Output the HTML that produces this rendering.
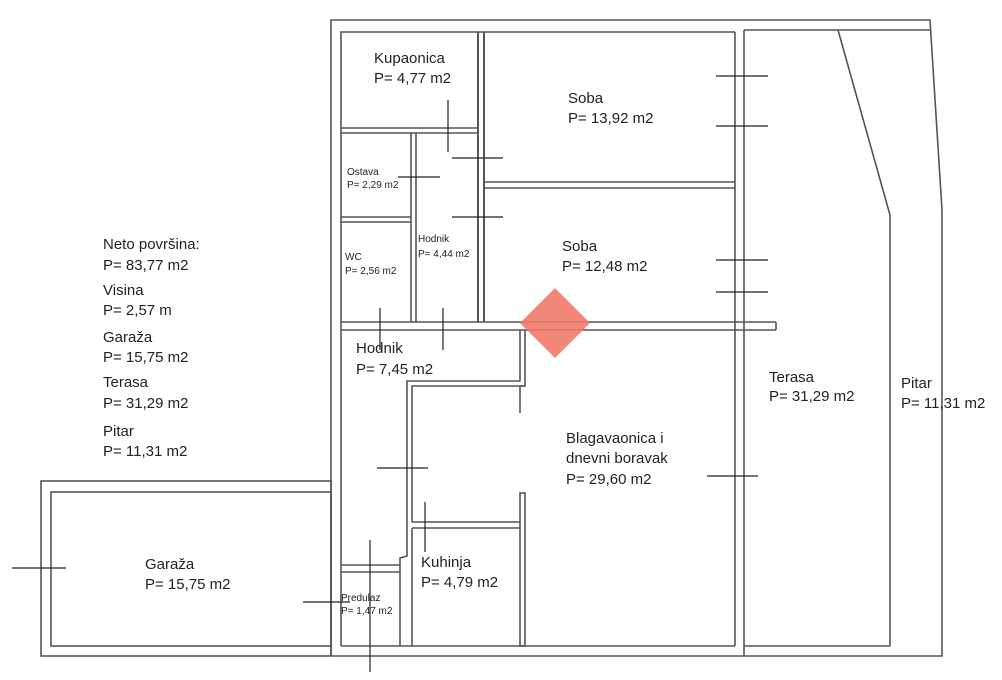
<!DOCTYPE html>
<html><head><style>
body{margin:0;background:#fff;width:1002px;height:680px;overflow:hidden}
svg{position:absolute;left:0;top:0}
text{font-family:"Liberation Sans",sans-serif;fill:#222}
</style></head><body>
<svg width="1002" height="680" viewBox="0 0 1002 680">
<g fill="none" stroke="#555" stroke-width="1.6">
<polyline points="331,656 331,20 930,20 942,210 942,656 331,656"/>
<polyline points="341,646 341,32 735,32"/>
<line x1="744" y1="30" x2="744" y2="656"/>
<line x1="735" y1="32" x2="735" y2="646"/>
<line x1="744" y1="30" x2="930" y2="30"/>
<polyline points="838,30 890,215 890,646"/>
<line x1="341" y1="646" x2="735" y2="646"/>
<line x1="744" y1="646" x2="890" y2="646"/>
<rect x="41" y="481" width="290" height="175"/>
<rect x="51" y="492" width="280" height="154"/>
<line x1="341" y1="128" x2="478" y2="128"/><line x1="341" y1="133" x2="478" y2="133"/>
<line x1="478" y1="32" x2="478" y2="322" stroke-width="2"/><line x1="484" y1="32" x2="484" y2="322" stroke-width="2"/>
<line x1="484" y1="182" x2="735" y2="182"/><line x1="484" y1="188" x2="735" y2="188"/>
<line x1="411" y1="133" x2="411" y2="322"/><line x1="416" y1="133" x2="416" y2="322"/>
<line x1="341" y1="217" x2="411" y2="217"/><line x1="341" y1="222" x2="411" y2="222"/>
<line x1="341" y1="322" x2="776" y2="322"/><line x1="341" y1="330" x2="776" y2="330"/>
<line x1="776" y1="322" x2="776" y2="330"/>
<polyline points="520,330 520,381 407,381 407,556 400,558 400,646"/>
<polyline points="525,330 525,386 412,386 412,522"/>
<line x1="520" y1="386" x2="525" y2="386"/>
<polyline points="520,413 520,386"/>
<rect x="520" y="493" width="5" height="153"/>
<line x1="412" y1="522" x2="520" y2="522"/><line x1="412" y1="528" x2="520" y2="528"/>
<line x1="412" y1="528" x2="412" y2="646"/>
<line x1="341" y1="565" x2="400" y2="565"/><line x1="341" y1="572" x2="400" y2="572"/>
</g>
<g stroke="#222" stroke-width="1.2">
<line x1="448" y1="100" x2="448" y2="152"/>
<line x1="452" y1="158" x2="503" y2="158"/>
<line x1="398" y1="177" x2="440" y2="177"/>
<line x1="452" y1="217" x2="503" y2="217"/>
<line x1="716" y1="76" x2="768" y2="76"/>
<line x1="716" y1="126" x2="768" y2="126"/>
<line x1="716" y1="260" x2="768" y2="260"/>
<line x1="716" y1="292" x2="768" y2="292"/>
<line x1="380" y1="308" x2="380" y2="350"/>
<line x1="443" y1="308" x2="443" y2="350"/>
<line x1="377" y1="468" x2="428" y2="468"/>
<line x1="425" y1="502" x2="425" y2="552"/>
<line x1="707" y1="476" x2="758" y2="476"/>
<line x1="370" y1="540" x2="370" y2="672"/>
<line x1="303" y1="602" x2="350" y2="602"/>
<line x1="12" y1="568" x2="66" y2="568"/>
</g>
<polygon points="555,288 590,323 555,358 520,323" fill="#f07a6a" opacity="0.9"/>
<g font-size="15">
<text x="374" y="63">Kupaonica</text>
<text x="374" y="83">P= 4,77 m2</text>
<text x="568" y="103">Soba</text>
<text x="568" y="123">P= 13,92 m2</text>
<text x="562" y="251">Soba</text>
<text x="562" y="271">P= 12,48 m2</text>
<text x="356" y="353">Hodnik</text>
<text x="356" y="374">P= 7,45 m2</text>
<text x="566" y="443">Blagavaonica i</text>
<text x="566" y="463">dnevni boravak</text>
<text x="566" y="484">P= 29,60 m2</text>
<text x="421" y="567">Kuhinja</text>
<text x="421" y="587">P= 4,79 m2</text>
<text x="145" y="569">Garaža</text>
<text x="145" y="589">P= 15,75 m2</text>
<text x="769" y="382">Terasa</text>
<text x="769" y="401">P= 31,29 m2</text>
<text x="901" y="388">Pitar</text>
<text x="901" y="408">P= 11,31 m2</text>
<text x="103" y="249">Neto površina:</text>
<text x="103" y="270">P= 83,77 m2</text>
<text x="103" y="295">Visina</text>
<text x="103" y="315">P= 2,57 m</text>
<text x="103" y="342">Garaža</text>
<text x="103" y="362">P= 15,75 m2</text>
<text x="103" y="387">Terasa</text>
<text x="103" y="408">P= 31,29 m2</text>
<text x="103" y="436">Pitar</text>
<text x="103" y="456">P= 11,31 m2</text>
</g>
<text x="347" y="175" font-size="10">Ostava</text>
<text x="347" y="188" font-size="10">P= 2,29 m2</text>
<text x="345" y="260" font-size="10">WC</text>
<text x="345" y="274" font-size="10">P= 2,56 m2</text>
<text x="418" y="242" font-size="10">Hodnik</text>
<text x="418" y="257" font-size="10">P= 4,44 m2</text>
<text x="341" y="601" font-size="10">Predulaz</text>
<text x="341" y="614" font-size="10">P= 1,47 m2</text>
</svg>
</body></html>
